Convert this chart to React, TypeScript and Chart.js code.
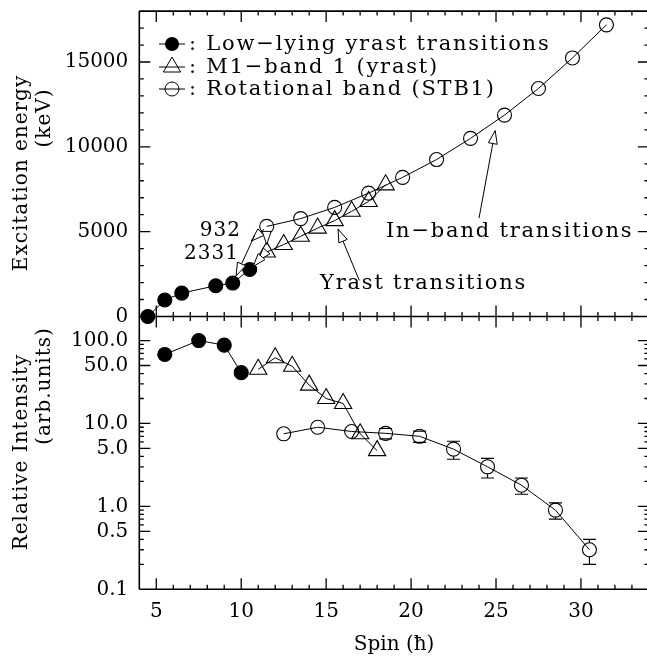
import React, { useEffect, useRef } from "react";
import { Chart, registerables } from "chart.js";

Chart.register(...registerables);

// ---------- data ----------
const lowSpinE = [4.5, 5.5, 6.5, 8.5, 9.5, 10.5];
const lowEnergy = [0, 970, 1380, 1810, 1970, 2770];
const m1SpinE = [11.5, 12.5, 13.5, 14.5, 15.5, 16.5, 17.5, 18.5];
const m1Energy = [3800, 4240, 4730, 5210, 5650, 6200, 6780, 7760];
const rotSpinE = [11.5, 13.5, 15.5, 17.5, 19.5, 21.5, 23.5, 25.5, 27.5, 29.5, 31.5];
const rotEnergy = [5310, 5770, 6430, 7270, 8200, 9250, 10500, 11870, 13440, 15240, 17190];

const lowSpinI = [5.5, 7.5, 9, 10];
const lowIntensity = [68, 100, 88, 41];
const m1SpinI = [11, 12, 13, 14, 15, 16, 17, 18];
const m1Intensity = [45, 62, 49, 29, 20, 17.4, 7.5, 4.7];
const rotSpinI = [12.5, 14.5, 16.5, 18.5, 20.5, 22.5, 24.5, 26.5, 28.5, 30.5];
const rotIntensity = [7.5, 9.0, 8.0, 7.6, 7.0, 4.9, 3.0, 1.8, 0.9, 0.3];
const rotIntensityErr = [null, null, null, 1.1, 1.1, 1.2, 0.8, 0.4, 0.2, 0.1];

const spinTicks = [5, 10, 15, 20, 25, 30];
const energyTicks = [0, 5000, 10000, 15000];
const intensityTicks = [0.1, 0.5, 1, 5, 10, 50, 100];
const intensityTickLabels = ["0.1", "0.5", "1.0", "5.0", "10.0", "50.0", "100.0"];

const legendLabels = ["Low\u2212lying yrast transitions", "M1\u2212band 1 (yrast)", "Rotational band (STB1)"];
const xTitle = "Spin (\u0127)";
const energyTitle = ["Excitation energy", "(keV)"];
const intensityTitle = ["Relative Intensity", "(arb.units)"];
const levelLabels = ["932", "2331"];
const yrastLabel = "Yrast transitions";
const inBandLabel = "In\u2212band transitions";

// ---------- helpers ----------
const FONT = '"DejaVu Serif", serif';

function pts(xs: number[], ys: number[]) {
  return xs.map((x, i) => ({ x, y: ys[i] }));
}

function drawArrow(ctx: CanvasRenderingContext2D, x1: number, y1: number, x2: number, y2: number, heads: number[]) {
  ctx.beginPath();
  ctx.moveTo(x1, y1);
  ctx.lineTo(x2, y2);
  ctx.stroke();
  const ang = Math.atan2(y2 - y1, x2 - x1);
  const L = 13;
  const W = 4.5;
  for (const f of heads) {
    const tx = x1 + (x2 - x1) * f;
    const ty = y1 + (y2 - y1) * f;
    const bx = tx - Math.cos(ang) * L;
    const by = ty - Math.sin(ang) * L;
    ctx.beginPath();
    ctx.moveTo(tx, ty);
    ctx.lineTo(bx + Math.sin(ang) * W, by - Math.cos(ang) * W);
    ctx.lineTo(bx - Math.sin(ang) * W, by + Math.cos(ang) * W);
    ctx.closePath();
    ctx.fillStyle = "#fff";
    ctx.fill();
    ctx.stroke();
  }
}

function rotatedText(ctx: CanvasRenderingContext2D, text: string, x: number, y: number) {
  ctx.save();
  ctx.translate(x, y);
  ctx.rotate(-Math.PI / 2);
  ctx.textAlign = "center";
  ctx.textBaseline = "middle";
  ctx.fillText(text, 0, 0);
  ctx.restore();
}

const decorPlugin = {
  id: "decor",
  afterDraw(chart: any) {
    const ctx: CanvasRenderingContext2D = chart.ctx;
    const xs = chart.scales.x;
    const yE = chart.scales.yE;
    const yI = chart.scales.yI;
    const left = chart.chartArea.left;
    const right = chart.chartArea.right;
    const top = yE.top;
    const mid = yE.bottom;
    const bottom = yI.bottom;
    ctx.save();
    ctx.strokeStyle = "#000";
    ctx.fillStyle = "#000";

    // error bars on rotational band intensities
    ctx.lineWidth = 1.2;
    rotIntensity.forEach((v, i) => {
      const e = rotIntensityErr[i];
      if (e == null) return;
      const px = xs.getPixelForValue(rotSpinI[i]);
      const pc = yI.getPixelForValue(v);
      const pu = yI.getPixelForValue(v + e);
      const pd = yI.getPixelForValue(v - e);
      const r = 7;
      ctx.beginPath();
      if (pu < pc - r) { ctx.moveTo(px, pu); ctx.lineTo(px, pc - r); }
      if (pd > pc + r) { ctx.moveTo(px, pc + r); ctx.lineTo(px, pd); }
      ctx.moveTo(px - 6.5, pu); ctx.lineTo(px + 6.5, pu);
      ctx.moveTo(px - 6.5, pd); ctx.lineTo(px + 6.5, pd);
      ctx.stroke();
    });

    // frame
    ctx.lineWidth = 1.6;
    ctx.beginPath();
    ctx.moveTo(left, top); ctx.lineTo(right, top);
    ctx.moveTo(left, mid); ctx.lineTo(right, mid);
    ctx.moveTo(left, bottom); ctx.lineTo(right, bottom);
    ctx.moveTo(left, top); ctx.lineTo(left, bottom);
    ctx.moveTo(right, top); ctx.lineTo(right, bottom);
    ctx.stroke();

    // ticks
    ctx.lineWidth = 1.3;
    const MAJ = 11, MIN = 4.5;
    ctx.beginPath();
    for (let s = 5; s < 34; s++) {
      const px = xs.getPixelForValue(s);
      const len = s % 5 === 0 ? MAJ : MIN;
      ctx.moveTo(px, top); ctx.lineTo(px, top + len);
      ctx.moveTo(px, mid); ctx.lineTo(px, mid - len);
      ctx.moveTo(px, mid); ctx.lineTo(px, mid + len);
      ctx.moveTo(px, bottom); ctx.lineTo(px, bottom - len);
    }
    for (let e = 1000; e < 18000; e += 1000) {
      const py = yE.getPixelForValue(e);
      const len = e % 5000 === 0 ? MAJ : MIN;
      ctx.moveTo(left, py); ctx.lineTo(left + len, py);
      ctx.moveTo(right, py); ctx.lineTo(right - len, py);
    }
    for (let d = 0.1; d < 200; d *= 10) {
      for (let k = 1; k <= 9; k++) {
        const v = d * k;
        if (v <= 0.1001 || v > 195) continue;
        const py = yI.getPixelForValue(v);
        const len = k === 1 || k === 5 ? MAJ : MIN;
        ctx.moveTo(left, py); ctx.lineTo(left + len, py);
        ctx.moveTo(right, py); ctx.lineTo(right - len, py);
      }
    }
    ctx.stroke();

    // axis titles (y)
    ctx.font = `20px ${FONT}`;
    (ctx as any).letterSpacing = "1px";
    rotatedText(ctx, energyTitle[0], 22, 173);
    rotatedText(ctx, energyTitle[1], 45, 118);
    rotatedText(ctx, intensityTitle[0], 22, 452);
    rotatedText(ctx, intensityTitle[1], 45, 386);

    // legend
    ctx.lineWidth = 1;
    const rows = [44, 67, 89];
    rows.forEach((ry, i) => {
      ctx.beginPath();
      ctx.moveTo(159, ry); ctx.lineTo(185, ry);
      ctx.stroke();
      ctx.beginPath();
      if (i === 0) {
        ctx.arc(172, ry, 7, 0, Math.PI * 2);
        ctx.fill();
      } else if (i === 1) {
        const r = 10;
        ctx.moveTo(172, ry - r);
        ctx.lineTo(172 + r * Math.sin((2 * Math.PI) / 3), ry + r / 2);
        ctx.lineTo(172 - r * Math.sin((2 * Math.PI) / 3), ry + r / 2);
        ctx.closePath();
        ctx.stroke();
      } else {
        ctx.arc(172, ry, 7, 0, Math.PI * 2);
        ctx.stroke();
      }
    });
    ctx.font = `21px ${FONT}`;
    (ctx as any).letterSpacing = "1.8px";
    ctx.textAlign = "left";
    ctx.textBaseline = "middle";
    rows.forEach((ry, i) => {
      ctx.fillText(": " + legendLabels[i], 189, ry + 1);
    });

    // annotations
    ctx.fillText(yrastLabel, 320, 284);
    ctx.fillText(inBandLabel, 386, 232);
    (ctx as any).letterSpacing = "1px";
    ctx.font = `20px ${FONT}`;
    ctx.textAlign = "right";
    ctx.fillText(levelLabels[0], 241, 231);
    ctx.fillText(levelLabels[1], 239, 254);
    (ctx as any).letterSpacing = "0px";

    const X = (v: number) => xs.getPixelForValue(v);
    const Y = (v: number) => yE.getPixelForValue(v);
    ctx.lineWidth = 1;
    ctx.strokeStyle = "#000";
    drawArrow(ctx, X(16.95), Y(2130), X(15.7), Y(5150), [1]);
    drawArrow(ctx, X(24.0), Y(5800), X(24.95), Y(10950), [1]);
    drawArrow(ctx, X(11.35), Y(5150), X(10.6), Y(4450), [1]);
    drawArrow(ctx, X(10.8), Y(4800), X(9.7), Y(2400), [1]);
    drawArrow(ctx, X(11.5), Y(4950), X(11.5), Y(4250), [1]);
    drawArrow(ctx, X(11.35), Y(3700), X(10.7), Y(2950), [0.55, 1]);

    ctx.restore();
  },
};

export default function App() {
  const ref = useRef<HTMLCanvasElement | null>(null);
  useEffect(() => {
    if (!ref.current) return;
    const black = "#000";
    const clear = "rgba(0,0,0,0)";
    const base = {
      borderColor: black,
      borderWidth: 1,
      pointBorderColor: black,
      pointBorderWidth: 1.1,
      showLine: true,
      fill: false,
      tension: 0,
      clip: false as any,
    };
    const font = { family: FONT, size: 20 };
    const chart = new Chart(ref.current, {
      type: "line",
      data: {
        datasets: [
          { ...base, label: legendLabels[0], data: pts(lowSpinE, lowEnergy), yAxisID: "yE", pointStyle: "circle", pointRadius: 7, pointBackgroundColor: black },
          { ...base, label: legendLabels[1], data: pts(m1SpinE, m1Energy), yAxisID: "yE", pointStyle: "triangle", pointRadius: 10, pointBackgroundColor: clear },
          { ...base, label: legendLabels[2], data: pts(rotSpinE, rotEnergy), yAxisID: "yE", pointStyle: "circle", pointRadius: 7, pointBackgroundColor: clear },
          { ...base, label: legendLabels[0], data: pts(lowSpinI, lowIntensity), yAxisID: "yI", pointStyle: "circle", pointRadius: 7, pointBackgroundColor: black },
          { ...base, label: legendLabels[1], data: pts(m1SpinI, m1Intensity), yAxisID: "yI", pointStyle: "triangle", pointRadius: 10, pointBackgroundColor: clear },
          { ...base, label: legendLabels[2], data: pts(rotSpinI, rotIntensity), yAxisID: "yI", pointStyle: "circle", pointRadius: 7, pointBackgroundColor: clear },
        ],
      },
      options: {
        animation: false,
        responsive: false,
        devicePixelRatio: 1,
        layout: { padding: { left: 0, top: 9, right: 8.3, bottom: 0 } },
        plugins: { legend: { display: false }, tooltip: { enabled: false } },
        scales: {
          x: {
            type: "linear",
            position: "bottom",
            min: 4,
            max: 34,
            grid: { display: false, drawTicks: false },
            border: { display: false },
            ticks: { font, color: black, padding: 10, autoSkip: false, maxRotation: 0 },
            title: { display: true, text: xTitle, font, color: black, padding: { top: 0, bottom: 1 } },
            afterBuildTicks: (s: any) => { s.ticks = spinTicks.map((v) => ({ value: v })); },
            afterFit: (s: any) => { s.height = 68.7; s.paddingLeft = 0; s.paddingRight = 0; },
          },
          yI: {
            type: "logarithmic",
            position: "left",
            stack: "panels",
            stackWeight: 273.8,
            min: 0.1,
            max: 195,
            grid: { display: false, drawTicks: false },
            border: { display: false },
            ticks: { font, color: black, padding: 11, autoSkip: false, callback: (_v: any, i: number) => intensityTickLabels[i] },
            afterBuildTicks: (s: any) => { s.ticks = intensityTicks.map((v) => ({ value: v })); },
            afterFit: (s: any) => { s.width = 139.3; s.paddingTop = 0; s.paddingBottom = 0; },
          },
          yE: {
            type: "linear",
            position: "left",
            stack: "panels",
            stackWeight: 306.5,
            min: 0,
            max: 18000,
            grid: { display: false, drawTicks: false },
            border: { display: false },
            ticks: { font, color: black, padding: 11, autoSkip: false, callback: (v: any) => String(v) },
            afterBuildTicks: (s: any) => { s.ticks = energyTicks.map((v) => ({ value: v })); },
            afterFit: (s: any) => { s.width = 139.3; s.paddingTop = 0; s.paddingBottom = 0; },
          },
        } as any,
      },
      plugins: [decorPlugin as any],
    });
    return () => chart.destroy();
  }, []);

  return (
    <div style={{ position: "absolute", left: 0, top: 0, width: 647, height: 658, overflow: "hidden", background: "#fff" }}>
      <canvas ref={ref} width={660} height={658} style={{ display: "block", width: 660, height: 658 }} />
    </div>
  );
}
